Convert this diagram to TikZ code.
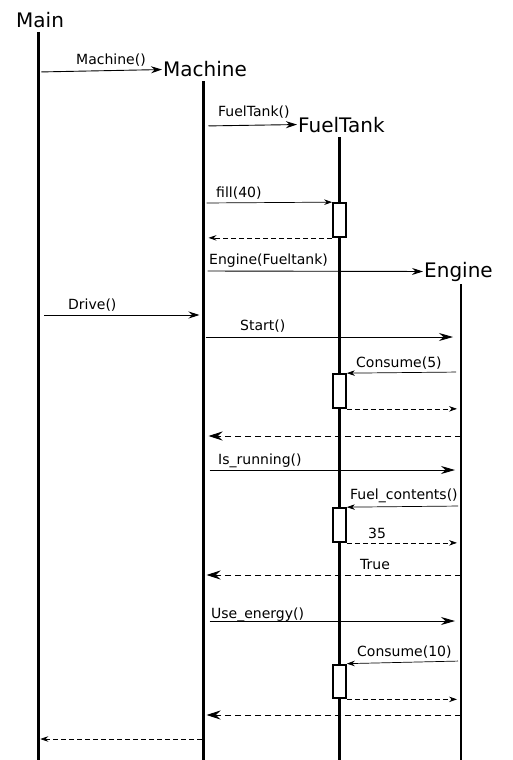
\documentclass[tikz,border=0pt]{standalone}
\usepackage{fontspec}
\setmainfont{DejaVu Sans}
\usetikzlibrary{arrows.meta, positioning}

\begin{document}
\begin{tikzpicture}[x=1pt, y=-1pt,
  title/.style={anchor=base west, inner sep=1pt, font=\fontsize{20}{24}\selectfont},
  lbl/.style={anchor=base west, inner sep=0pt, font=\fontsize{14}{16}\selectfont},
  life/.style={line width=3pt},
  act/.style={rectangle, draw, fill=white, line width=2.2pt, inner sep=0pt, minimum width=12.5pt, minimum height=33.5pt},
  call/.style={line width=0.9pt, -{Stealth[length=11pt, width=7pt]}},
  bigcall/.style={line width=0.9pt, -{Stealth[length=14pt, width=8pt]}},
  ret/.style={line width=0.7pt, dash pattern=on 5pt off 3pt, -{Stealth[length=8pt, width=5.5pt]}},
  bigret/.style={line width=0.8pt, dash pattern=on 6pt off 4pt, -{Stealth[length=14pt, width=9pt]}}]

  \useasboundingbox (0,0) rectangle (512,760);

  \node[title] (Main) at (15,28) {Main};
  \node[title] (Machine) at (162,77) {Machine};
  \node[title] (FuelTank) at (297,132) {FuelTank};
  \node[title] (Engine) at (423,277) {Engine};

  \coordinate (m) at (38.3,32);
  \coordinate (mc) at (203.5,81);
  \coordinate (ft) at (339.5,137);
  \coordinate (en) at (461,284);

  \draw[life] (m) -- (m |- 0,760);
  \draw[life] (mc) -- (mc |- 0,760);
  \draw[life] (ft) -- (ft |- 0,760);
  \draw[life, line width=2.6pt] (en) -- (en |- 0,760);

  \node[act] (act1) at (339.5,220) {};
  \node[act] (act2) at (339.5,391) {};
  \node[act] (act3) at (339.5,525) {};
  \node[act] (act4) at (339.5,681.5) {};

  \draw[call, shorten <=3pt] (m |- 0,72) -- (Machine.west);
  \draw[call, shorten <=5pt] (mc |- 0,126) -- (FuelTank.west);
  \draw[ret, dash pattern=, shorten <=3pt] (mc |- 0,203) -- (act1.north west);
  \draw[ret, shorten >=5pt] (act1.south west) -- (mc |- act1.south);
  \draw[call, shorten <=4pt] (mc |- 0,271) -- (Engine.west);
  \draw[call, shorten <=6pt, shorten >=4pt] (m |- 0,315) -- (mc |- 0,315);
  \draw[bigcall, shorten <=2pt, shorten >=8pt] (mc |- 0,337) -- (en |- 0,337);
  \draw[ret, dash pattern=, shorten <=5pt] (en |- 0,372) -- (act2.north east);
  \draw[ret, shorten >=4pt] (act2.south east) -- (en |- act2.south);
  \draw[bigret, shorten >=5pt] (en |- 0,436) -- (mc |- 0,436);
  \draw[bigcall, shorten <=6pt, shorten >=6pt] (mc |- 0,470) -- (en |- 0,470);
  \draw[ret, dash pattern=, shorten <=3pt] (en |- 0,506) -- (act3.north east);
  \draw[ret, shorten >=4pt] (act3.south east) -- (en |- act3.south);
  \draw[bigret, shorten >=3pt] (en |- 0,575) -- (mc |- 0,575);
  \draw[bigcall, shorten <=6pt, shorten >=6pt] (mc |- 0,621) -- (en |- 0,621);
  \draw[ret, dash pattern=, shorten <=3pt] (en |- 0,661) -- (act4.north east);
  \draw[ret, shorten >=4pt] (act4.south east) -- (en |- act4.south);
  \draw[bigret, shorten >=3pt] (en |- 0,715) -- (mc |- 0,715);
  \draw[ret, shorten <=2pt, shorten >=2pt] (mc |- 0,739) -- (m |- 0,739);

  \node[lbl] (lMachine) at (76,64) {Machine()};
  \node[lbl] (lFuelTank) at (218,116) {FuelTank()};
  \node[lbl] (lFill) at (216,197) {fill(40)};
  \node[lbl] (lEngine) at (209,264) {Engine(Fueltank)};
  \node[lbl] (lDrive) at (68,309) {Drive()};
  \node[lbl] (lStart) at (240,330) {Start()};
  \node[lbl] (lConsumeA) at (356,367) {Consume(5)};
  \node[lbl] (lRunning) at (218,464) {Is\_running()};
  \node[lbl] (lContents) at (350,499) {Fuel\_contents()};
  \node[lbl] (lThirtyFive) at (368,538) {35};
  \node[lbl] (lTrue) at (360,569) {True};
  \node[lbl] (lEnergy) at (211,618) {Use\_energy()};
  \node[lbl] (lConsumeB) at (357,656) {Consume(10)};

\end{tikzpicture}
\end{document}
